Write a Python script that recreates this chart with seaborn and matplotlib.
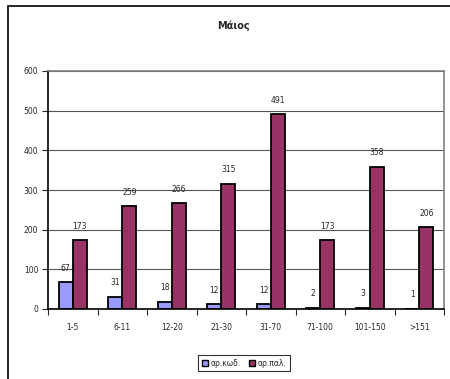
import matplotlib
matplotlib.use("Agg")
import matplotlib.pyplot as plt
from matplotlib.patches import Rectangle
import seaborn as sns
import pandas as pd
import numpy as np

categories = ["1-5", "6-11", "12-20", "21-30", "31-70", "71-100", "101-150", ">151"]
ar_kod = [67, 31, 18, 12, 12, 2, 3, 1]
ar_pal = [173, 259, 266, 315, 491, 173, 358, 206]
series_names = ["αρ.κωδ.", "αρ.παλ."]
colors = ["#9999FF", "#993366"]

df = pd.DataFrame({
    "cat": categories * 2,
    "val": ar_kod + ar_pal,
    "series": [series_names[0]] * len(categories) + [series_names[1]] * len(categories),
})

sns.set_style("white")
plt.rcParams["font.family"] = ["DejaVu Sans"]

fig = plt.figure(figsize=(4.5, 3.79), dpi=100)
ax = fig.add_axes([48 / 450, 1 - 309 / 379, 396 / 450, 238 / 379])

sns.barplot(data=df, x="cat", y="val", hue="series", palette=colors,
            saturation=1, width=0.57, edgecolor="black", linewidth=1.3, ax=ax,
            order=categories, hue_order=series_names, legend=True)

for cont in ax.containers:
    ax.bar_label(cont, fontsize=5.5, padding=7)

ax.set_ylim(0, 600)
ax.set_xlim(-0.5, len(categories) - 0.5)
ax.set_yticks(range(0, 601, 100))
ax.yaxis.grid(True, color="#555555", linewidth=0.8)
ax.set_axisbelow(True)
ax.set_xlabel("")
ax.set_ylabel("")
ax.tick_params(axis="both", labelsize=5.5, pad=6)
ax.tick_params(axis="y", length=4, width=0.8, direction="out", left=True, pad=3)
ax.tick_params(axis="x", which="major", length=0, pad=10)
ax.set_xticks(np.arange(-0.5, len(categories), 1.0), minor=True)
ax.tick_params(axis="x", which="minor", length=4, width=0.8, direction="out", bottom=True)

for side in ["left", "bottom"]:
    ax.spines[side].set_color("black")
    ax.spines[side].set_linewidth(1.2)
for side in ["top", "right"]:
    ax.spines[side].set_visible(True)
    ax.spines[side].set_color("#808080")
    ax.spines[side].set_linewidth(1.2)

leg = ax.legend(loc="center", bbox_to_anchor=(244 / 450, 16 / 379),
                bbox_transform=fig.transFigure, ncol=2, fontsize=5.5,
                frameon=True, fancybox=False, edgecolor="black",
                handlelength=0.8, handleheight=0.8, handletextpad=0.4,
                columnspacing=1.0, borderpad=0.5)
leg.get_frame().set_linewidth(0.8)
for h in leg.legend_handles:
    h.set_edgecolor("black")
    h.set_linewidth(1.0)

fig.text(233 / 450, 1 - 26 / 379, "Μάιος", ha="center", va="center",
         fontsize=7, fontweight="bold")

fig.patches.append(Rectangle((8 / 450, -0.05), 1.0, 1.05 - 6 / 379,
                             transform=fig.transFigure, fill=False,
                             edgecolor="black", linewidth=1.2))

fig.savefig("out.png", dpi=100)
